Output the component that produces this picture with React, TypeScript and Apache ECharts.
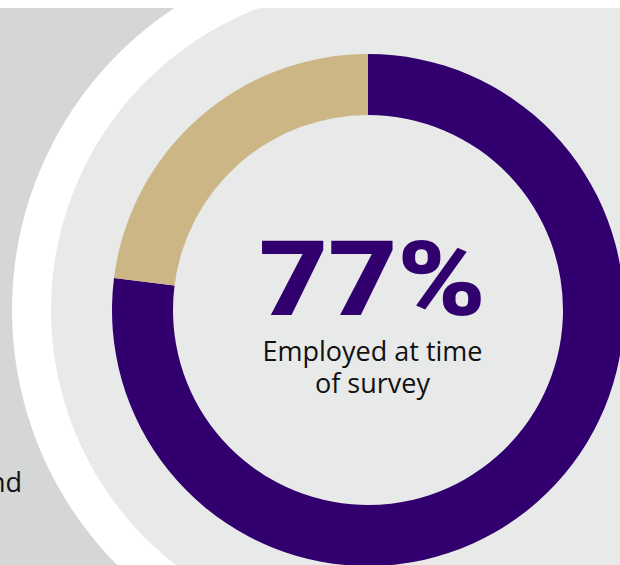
import React, { useEffect, useRef } from "react";
import * as echarts from "echarts";

const categories = ["Employed at time of survey", "Not employed"];
const values = [77, 23];
const colors = ["#32006e", "#cdb686"];
const headline = "77%";
const captionLines = ["Employed at time", "of survey"];
const sideText = "nd";

export default function App() {
  const ref = useRef<HTMLDivElement>(null);
  useEffect(() => {
    document.body.style.margin = "0";
    const chart = echarts.init(ref.current!, null, { renderer: "svg" });
    chart.setOption({
      animation: false,
      backgroundColor: "#d5d6d6",
      graphic: [
        { type: "circle", z: -10, shape: { cx: 374, cy: 310, r: 362 }, style: { fill: "#ffffff" }, silent: true },
        { type: "circle", z: -9, shape: { cx: 374, cy: 310, r: 323 }, style: { fill: "#e8eaea" }, silent: true },
        { type: "rect", z: -9, shape: { x: 374, y: 0, width: 246, height: 565 }, style: { fill: "#e8eaea" }, silent: true },
        { type: "rect", z: 100, shape: { x: 0, y: 0, width: 620, height: 8 }, style: { fill: "#ffffff" }, silent: true },
        {
          type: "text", z: 50, x: 372.5, y: 280, scaleX: 1.16,
          style: { text: headline, fill: "#32006e", font: "900 103px Roboto", textAlign: "center", textVerticalAlign: "middle" },
        },
        {
          type: "text", z: 50, x: 372.5, y: 366.5,
          style: {
            text: captionLines.join("\n"), fill: "#111111", font: "400 27px 'Open Sans'",
            lineHeight: 32, textAlign: "center", textVerticalAlign: "middle",
          },
        },
        {
          type: "text", z: 50, x: 22, y: 481.5,
          style: { text: sideText, fill: "#111111", font: "400 27px 'Open Sans'", textAlign: "right", textVerticalAlign: "middle" },
        },
      ],
      series: [
        {
          type: "pie",
          center: [368, 310],
          radius: [195, 256],
          startAngle: 90,
          clockwise: true,
          silent: true,
          label: { show: false },
          labelLine: { show: false },
          itemStyle: { borderWidth: 0 },
          emphasis: { disabled: true },
          data: categories.map((name, i) => ({ name, value: values[i], itemStyle: { color: colors[i] } })),
        },
      ],
    });
    return () => chart.dispose();
  }, []);
  return <div ref={ref} style={{ width: 620, height: 565 }} />;
}
